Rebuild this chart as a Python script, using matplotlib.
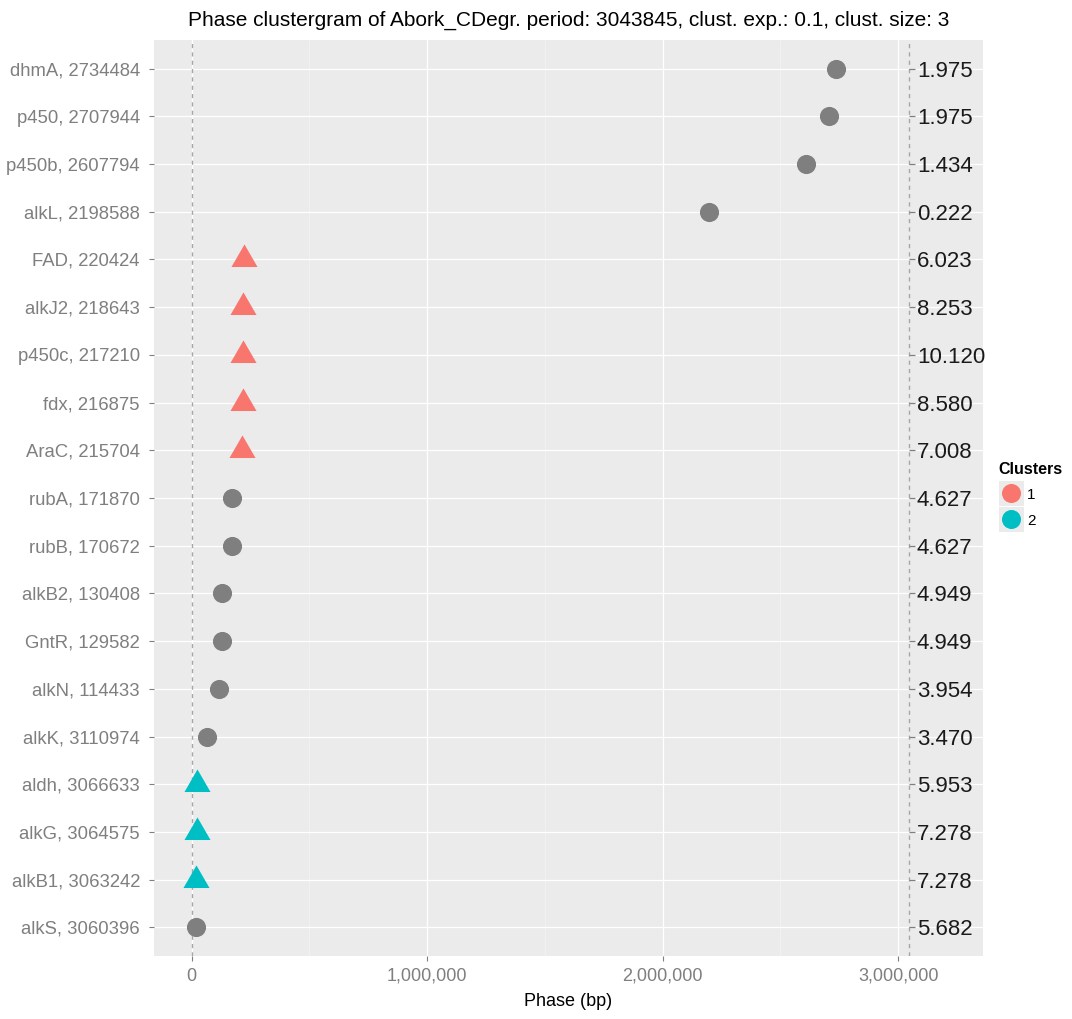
import numpy as np
import matplotlib.pyplot as plt
from matplotlib.lines import Line2D
from matplotlib.legend_handler import HandlerTuple
from matplotlib.markers import TICKRIGHT
from matplotlib.ticker import FuncFormatter, MultipleLocator

plt.rcParams["font.family"] = ["Liberation Sans", "DejaVu Sans"]

# genome period and gene table, listed top to bottom
period = 3043845
genes = ["dhmA", "p450", "p450b", "alkL", "FAD", "alkJ2", "p450c", "fdx",
         "AraC", "rubA", "rubB", "alkB2", "GntR", "alkN", "alkK", "aldh",
         "alkG", "alkB1", "alkS"]
positions = np.array([2734484, 2707944, 2607794, 2198588, 220424, 218643,
                      217210, 216875, 215704, 171870, 170672, 130408, 129582,
                      114433, 3110974, 3066633, 3064575, 3063242, 3060396])
scores = [1.975, 1.975, 1.434, 0.222, 6.023, 8.253, 10.120, 8.580, 7.008,
          4.627, 4.627, 4.949, 4.949, 3.954, 3.470, 5.953, 7.278, 7.278,
          5.682]
clusters = [0, 0, 0, 0, 1, 1, 1, 1, 1, 0, 0, 0, 0, 0, 0, 2, 2, 2, 0]

phase = positions % period
clusters = np.array(clusters)
rows = np.arange(len(genes))[::-1] + 1

cl_colors = {0: "#7F7F7F", 1: "#F8766D", 2: "#00BFC4"}
triangle = [(-1, -0.577), (1, -0.577), (0, 1.155)]
grey_txt = "#7F7F7F"

fig = plt.figure(figsize=(10.72, 10.19), dpi=100)
ax = fig.add_axes([154 / 1072, 1 - 956 / 1019, (983 - 154) / 1072, (956 - 40) / 1019])
ax.set_facecolor("#EBEBEB")
for s in ax.spines.values():
    s.set_visible(False)

ax.set_xlim(-160000, 3360000)
ax.set_ylim(0.4, len(genes) + 0.6)

ax.xaxis.set_major_locator(MultipleLocator(1000000))
ax.xaxis.set_minor_locator(MultipleLocator(500000))
ax.xaxis.set_major_formatter(FuncFormatter(lambda v, p: f"{int(v):,}"))
ax.grid(which="major", color="white", lw=0.9)
ax.grid(which="minor", axis="x", color="#F4F4F4", lw=0.5)
ax.set_axisbelow(True)
ax.set_yticks(rows)
ax.set_yticklabels([f"{g}, {p}" for g, p in zip(genes, positions)])
ax.tick_params(axis="both", which="major", length=3.6, width=0.8,
               color=grey_txt, labelcolor=grey_txt, labelsize=13)
ax.tick_params(axis="y", pad=6.5, labelsize=13.3)
ax.tick_params(axis="x", pad=5)
ax.tick_params(which="minor", length=0)

ax.axvline(0, color="#A6A6A6", lw=1, ls=(0, (3, 3)), zorder=1)
ax.axvline(period, color="#A6A6A6", lw=1, ls=(0, (3, 3)), zorder=1)

for c in [0, 1, 2]:
    m = clusters == c
    if c == 0:
        ax.scatter(phase[m], rows[m], s=190, marker="o", color=cl_colors[c],
                   linewidths=0, zorder=3)
    else:
        ax.scatter(phase[m], rows[m], s=470, marker=triangle, color=cl_colors[c],
                   linewidths=0, zorder=3)

# score column on the period line
ax.plot(np.full(len(rows), period), rows, ls="none", marker=TICKRIGHT,
        ms=4.5, mew=0.9, color=grey_txt, zorder=2)
for y, v in zip(rows, scores):
    ax.annotate(f"{v:.3f}", xy=(period, y), xytext=(6, 0),
                textcoords="offset points", ha="left", va="center_baseline",
                fontsize=16, color="#1A1A1A")

ax.set_xlabel("Phase (bp)", fontsize=13, labelpad=6)
ax.set_title("Phase clustergram of Abork_CDegr. period: %d, clust. exp.: 0.1, "
             "clust. size: 3" % period, fontsize=15, pad=10)

handles = []
for c in [1, 2]:
    bg = Line2D([], [], ls="none", marker="s", ms=18, mew=0, color="#EBEBEB")
    dot = Line2D([], [], ls="none", marker="o", ms=13.7, mew=0, color=cl_colors[c])
    handles.append((bg, dot))
leg = ax.legend(handles, ["1", "2"], title="Clusters", loc="upper left",
                bbox_to_anchor=(998 / 1072, 1 - 462 / 1019),
                bbox_transform=fig.transFigure, frameon=False,
                handler_map={tuple: HandlerTuple(ndivide=1)},
                fontsize=11, handlelength=1.64, handleheight=1.0,
                handletextpad=0.25, labelspacing=0.72, borderpad=0,
                borderaxespad=0, alignment="left")
leg.get_title().set_fontweight("bold")
leg.get_title().set_fontsize(11.5)
# room between the title and the keys
leg._legend_box.sep = 7

fig.savefig("out.png", dpi=100)
